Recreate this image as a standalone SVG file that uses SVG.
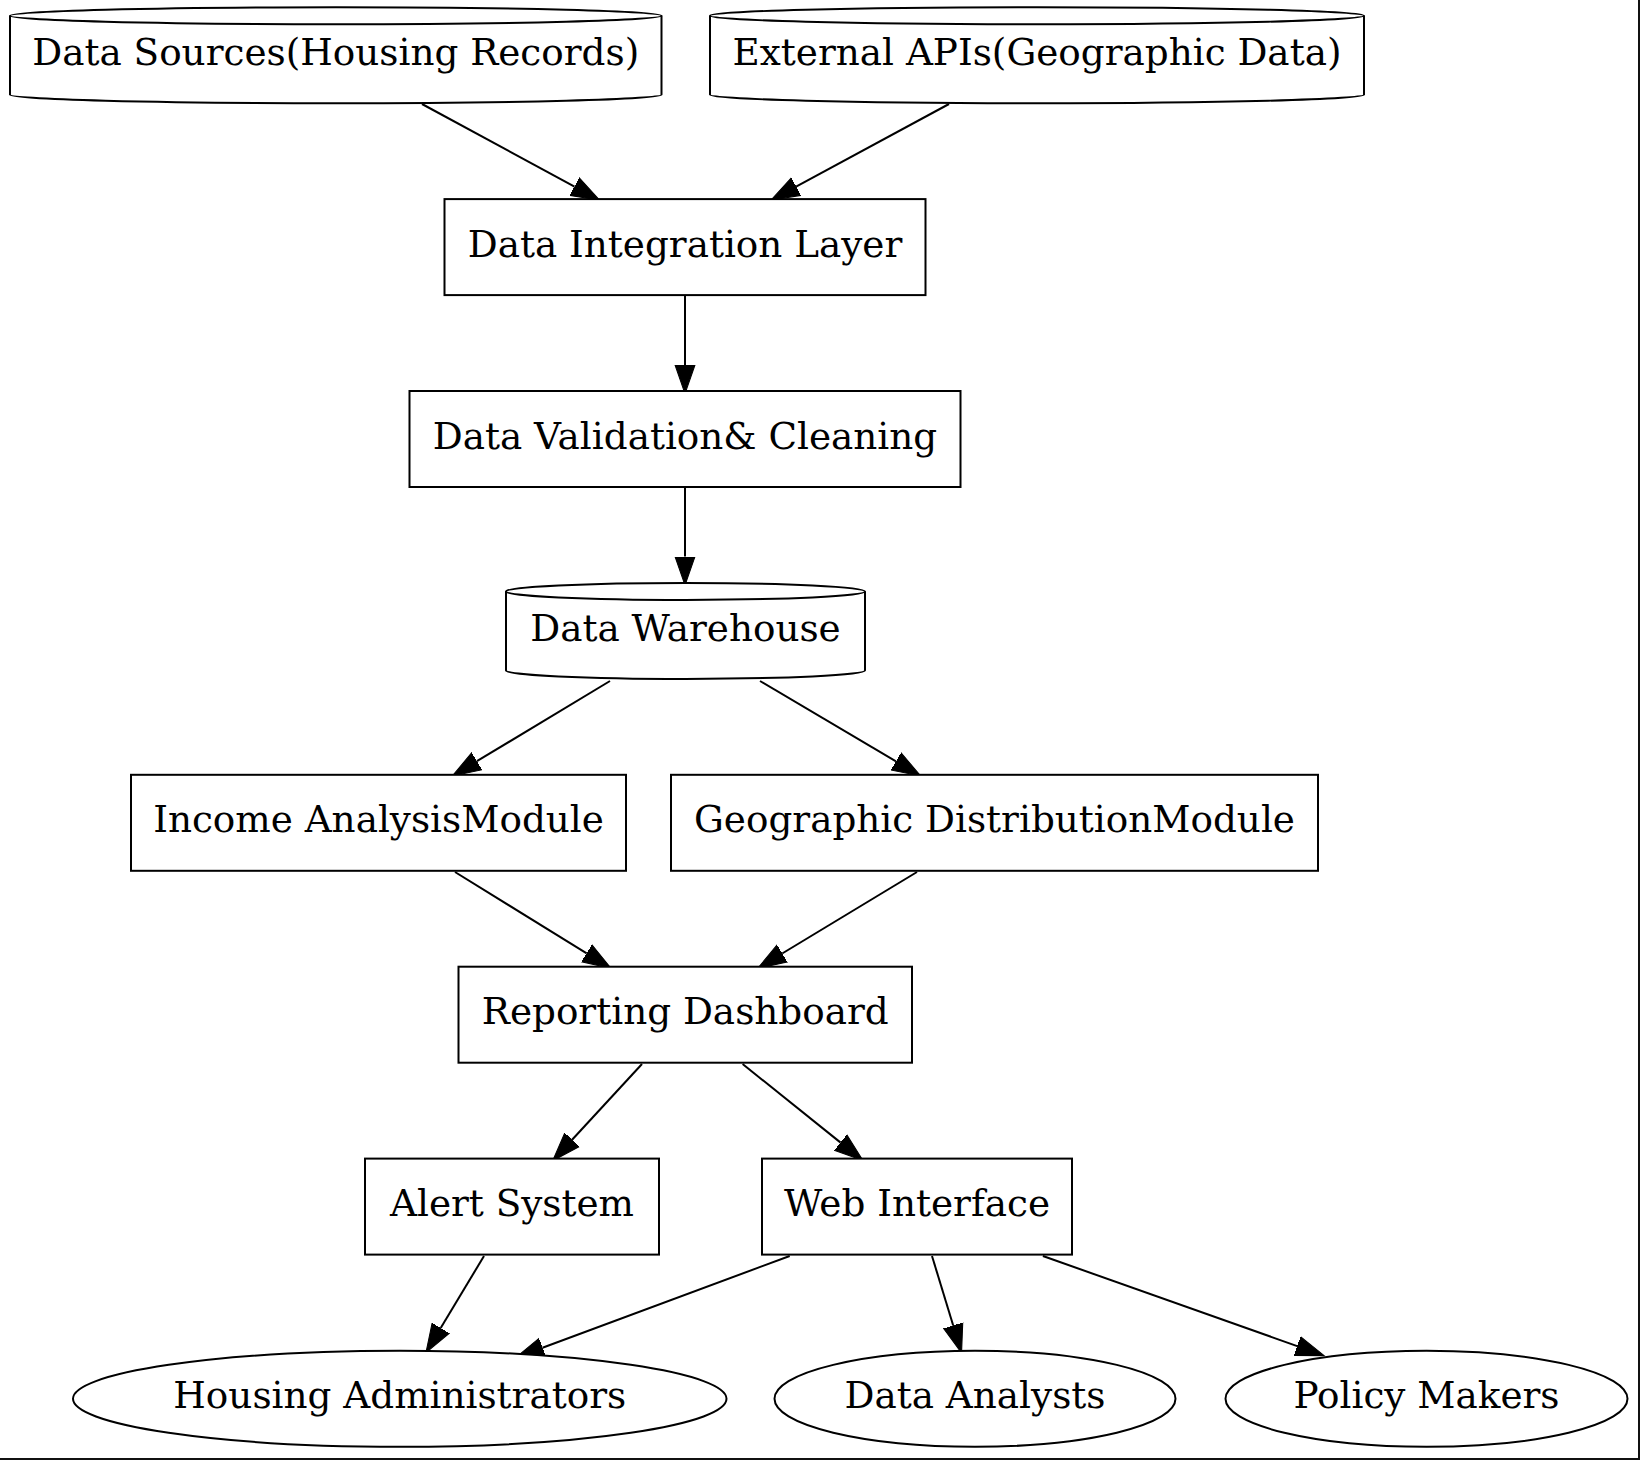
<svg xmlns="http://www.w3.org/2000/svg" width="1640" height="1460" viewBox="0 0 1640 1460">
<style>
.n{fill:#fff;stroke:#000;stroke-width:2}
.i{fill:none;stroke:#000;stroke-width:2}
.t{font-family:"DejaVu Serif",serif;font-size:37.33px;fill:#000;text-anchor:middle}
.e{stroke:#000;stroke-width:2;fill:none}
</style>
<defs>
<marker id="ah" markerUnits="userSpaceOnUse" markerWidth="30" markerHeight="22" viewBox="0 -10 28 20" refX="0" refY="0" orient="auto">
<path d="M0,-9.3 L26.7,0 L0,9.3 Z" fill="#000" stroke="#000" stroke-width="1"/>
</marker>
</defs>
<rect x="0" y="0" width="1640" height="1460" fill="#fff"/>
<rect x="1638" y="0" width="2" height="1460" fill="#111"/>
<rect x="0" y="1458" width="1640" height="2" fill="#111"/>
<g id="connectors">
<line class="e" x1="422" y1="104" x2="574.5" y2="186.6" marker-end="url(#ah)"/>
<line class="e" x1="949" y1="104" x2="796.1" y2="186.6" marker-end="url(#ah)"/>
<line class="e" x1="685" y1="296" x2="685" y2="365" marker-end="url(#ah)"/>
<line class="e" x1="685" y1="488" x2="685" y2="556.6" marker-end="url(#ah)"/>
<line class="e" x1="610" y1="681" x2="476.9" y2="761.2" marker-end="url(#ah)"/>
<line class="e" x1="760" y1="681" x2="896" y2="761.4" marker-end="url(#ah)"/>
<line class="e" x1="455" y1="872" x2="586.7" y2="953.3" marker-end="url(#ah)"/>
<line class="e" x1="917" y1="872" x2="782.2" y2="953.5" marker-end="url(#ah)"/>
<line class="e" x1="642" y1="1064" x2="572.1" y2="1139.7" marker-end="url(#ah)"/>
<line class="e" x1="742.6" y1="1064" x2="840.6" y2="1142.6" marker-end="url(#ah)"/>
<line class="e" x1="484" y1="1256" x2="440.7" y2="1328.1" marker-end="url(#ah)"/>
<line class="e" x1="789.7" y1="1256" x2="542.5" y2="1347.7" marker-end="url(#ah)"/>
<line class="e" x1="932" y1="1256" x2="953.2" y2="1325.5" marker-end="url(#ah)"/>
<line class="e" x1="1042.9" y1="1256" x2="1297.2" y2="1346.1" marker-end="url(#ah)"/>
</g>
<g id="data_sources">
<path class="n" d="M10,15.7 A325.75,8.5 0 0 1 661.5,15.7 L661.5,94.7 A325.75,8.5 0 0 1 10,94.7 Z"/>
<path class="i" d="M10,15.7 A325.75,8.5 0 0 0 661.5,15.7"/>
<text class="t" x="335.75" y="65">Data Sources(Housing Records)</text>
</g>
<g id="external_apis">
<path class="n" d="M710,15.7 A327,8.5 0 0 1 1364,15.7 L1364,94.7 A327,8.5 0 0 1 710,94.7 Z"/>
<path class="i" d="M710,15.7 A327,8.5 0 0 0 1364,15.7"/>
<text class="t" x="1037" y="65">External APIs(Geographic Data)</text>
</g>
<g id="integration">
<rect class="n" x="444.5" y="199.1" width="481" height="96"/>
<text class="t" x="685" y="256.6">Data Integration Layer</text>
</g>
<g id="validation">
<rect class="n" x="409.5" y="391" width="551" height="96"/>
<text class="t" x="685" y="448.5">Data Validation&amp; Cleaning</text>
</g>
<g id="warehouse">
<path class="n" d="M506,591.4 A179.5,8.5 0 0 1 865,591.4 L865,670.4 A179.5,8.5 0 0 1 506,670.4 Z"/>
<path class="i" d="M506,591.4 A179.5,8.5 0 0 0 865,591.4"/>
<text class="t" x="685.5" y="640.5">Data Warehouse</text>
</g>
<g id="income">
<rect class="n" x="131" y="774.8" width="495" height="96"/>
<text class="t" x="378.5" y="832.3">Income AnalysisModule</text>
</g>
<g id="geographic">
<rect class="n" x="671" y="774.8" width="647" height="96"/>
<text class="t" x="994.5" y="832.3">Geographic DistributionModule</text>
</g>
<g id="reporting">
<rect class="n" x="458.5" y="966.7" width="453.5" height="96"/>
<text class="t" x="685.25" y="1024.2">Reporting Dashboard</text>
</g>
<g id="alert">
<rect class="n" x="365" y="1158.6" width="294" height="96"/>
<text class="t" x="512" y="1216.1">Alert System</text>
</g>
<g id="web">
<rect class="n" x="762" y="1158.6" width="310" height="96"/>
<text class="t" x="917" y="1216.1">Web Interface</text>
</g>
<g id="housing_admins">
<ellipse class="n" cx="399.75" cy="1398.8" rx="326.75" ry="48"/>
<text class="t" x="399.75" y="1407.8">Housing Administrators</text>
</g>
<g id="data_analysts">
<ellipse class="n" cx="975" cy="1398.8" rx="200.5" ry="48"/>
<text class="t" x="975" y="1407.8">Data Analysts</text>
</g>
<g id="policy_makers">
<ellipse class="n" cx="1426.5" cy="1398.8" rx="201" ry="48"/>
<text class="t" x="1426.5" y="1407.8">Policy Makers</text>
</g>
</svg>
